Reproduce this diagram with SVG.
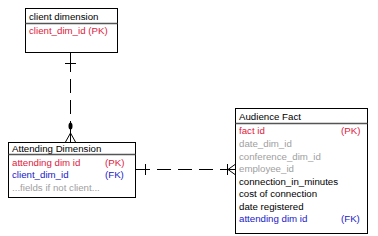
<svg xmlns="http://www.w3.org/2000/svg" width="378" height="236" viewBox="0 0 378 236">
<style>
.box{fill:#fff;stroke:#000;stroke-width:1}
.sep{stroke:#555;stroke-width:1.5}
text{font-family:"Liberation Sans",Arial,sans-serif;font-size:9.7px}
.h{fill:#000}
.pk{fill:#e0203c}
.fk{fill:#2020c8}
.g{fill:#a0a0a0}
.k{fill:#000}
.ln{stroke:#000;stroke-width:1;fill:none}
.dash{stroke-dasharray:14,7}
</style>
<rect width="378" height="236" fill="#fff"/>
<g id="connectors">
<path class="ln" d="M70.5,52 V72"/>
<path class="ln dash" d="M70.5,79 V126"/>
<path class="ln" d="M65,63.5 H76"/>
<ellipse cx="70.5" cy="126" rx="2" ry="3.5" fill="#000"/>
<path class="ln" d="M70.5,126 V142 M70.5,133 L65.5,142 M70.5,133 L75.5,142"/>
<path class="ln" d="M135,169.5 H150"/>
<path class="ln dash" d="M157,169.5 H228"/>
<path class="ln" d="M145.5,164 V175"/>
<path class="ln" d="M227.5,164 V175 M227,169.5 H235 M228,169.5 L235,164.5 M228,169.5 L235,174.5"/>
</g>
<g id="client-dimension">
<rect class="box" x="25.5" y="8.5" width="92" height="44"/>
<line class="sep" x1="25.5" y1="23.5" x2="117.5" y2="23.5"/>
<text class="h" x="29" y="20">client dimension</text>
<text class="pk" x="29" y="34">client_dim_id (PK)</text>
</g>
<g id="attending-dimension">
<rect class="box" x="8.5" y="142.5" width="127" height="55"/>
<line class="sep" x1="8.5" y1="154.5" x2="135.5" y2="154.5"/>
<text class="h" x="12" y="151.5">Attending Dimension</text>
<text class="pk" x="12" y="165.5">attending dim id</text>
<text class="pk" x="105" y="165.5">(PK)</text>
<text class="fk" x="12" y="178">client_dim_id</text>
<text class="fk" x="105" y="178">(FK)</text>
<text class="g" x="12" y="191">...fields if not client...</text>
</g>
<g id="audience-fact">
<rect class="box" x="235.5" y="108.5" width="132" height="125"/>
<line class="sep" x1="235.5" y1="123.5" x2="367.5" y2="123.5"/>
<text class="h" x="239" y="119.5">Audience Fact</text>
<text class="pk" x="239" y="134">fact id</text>
<text class="pk" x="341" y="134">(PK)</text>
<text class="g" x="239" y="147">date_dim_id</text>
<text class="g" x="239" y="159.5">conference_dim_id</text>
<text class="g" x="239" y="172">employee_id</text>
<text class="k" x="239" y="184.5">connection_in_minutes</text>
<text class="k" x="239" y="197">cost of connection</text>
<text class="k" x="239" y="209.5">date registered</text>
<text class="fk" x="239" y="222">attending dim id</text>
<text class="fk" x="341" y="222">(FK)</text>
</g>
</svg>
